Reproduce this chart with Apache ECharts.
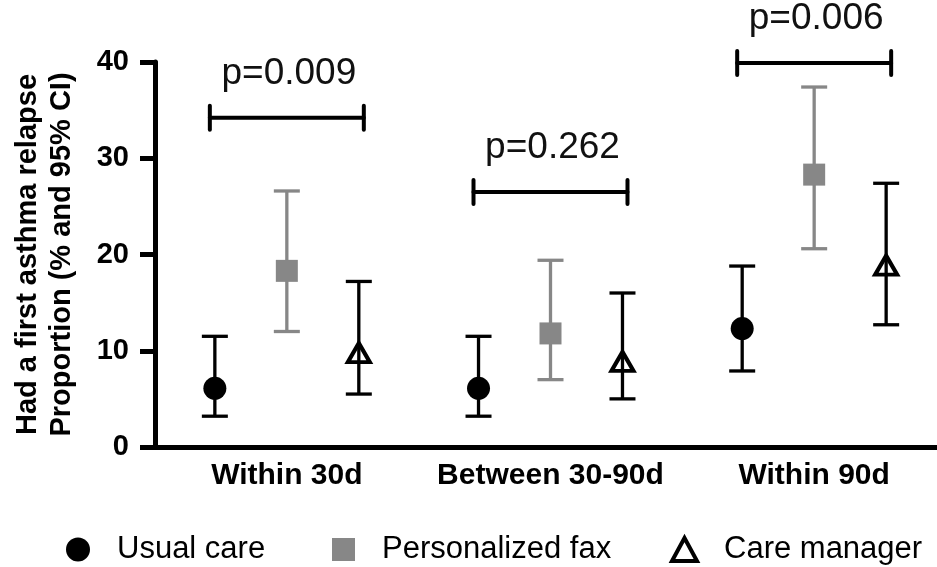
<!DOCTYPE html>
<html>
<head>
<meta charset="utf-8">
<script src="https://cdn.jsdelivr.net/npm/echarts@6/dist/echarts.min.js"></script>
<style>
html, body { margin: 0; padding: 0; background: #fff; }
#chart { width: 937px; height: 567px; }
</style>
</head>
<body>
<div id="chart"></div>
<script>
// categories and tick labels
var categories = ['Within 30d', 'Between 30-90d', 'Within 90d'];
var yTicks = [0, 10, 20, 30, 40];

// proportion (%) with 95% CI, per group
var usualMean = [6.1, 6.1, 12.3];
var usualLow = [3.2, 3.2, 7.9];
var usualHigh = [11.5, 11.5, 18.8];

var faxMean = [18.3, 11.8, 28.3];
var faxLow = [12.0, 7.0, 20.6];
var faxHigh = [26.6, 19.4, 37.4];

var managerMean = [9.8, 8.9, 18.9];
var managerLow = [5.5, 5.0, 12.7];
var managerHigh = [17.2, 16.0, 27.4];

// significance brackets
var pLabels = ['p=0.009', 'p=0.262', 'p=0.006'];
var bracketLevel = [34.2, 26.5, 39.9];

var FONT = '"Liberation Sans", Arial, sans-serif';
var GREY = '#878787';
var groupOffset = 0.273;
var bracketHalf = 0.292;

//把每组数据放到隐藏数值轴上的位置
function build_points(means, shift){
	var out = [];
	for(var i = 0; i < means.length; i++){
		out.push([i + 0.5 + shift, means[i]]);
	}
	return out;
}
function build_bars(lows, highs, shift){
	var out = [];
	for(var i = 0; i < lows.length; i++){
		out.push([i + 0.5 + shift, lows[i], highs[i]]);
	}
	return out;
}

//误差线
function error_bar_renderer(color){
	return function(params, api){
		var x = api.value(0);
		var lo = api.coord([x, api.value(1)]);
		var hi = api.coord([x, api.value(2)]);
		var cap = 13;
		var st = { stroke: color, lineWidth: 3.3 };
		return {
			type: 'group',
			children: [
				{ type: 'line', shape: { x1: lo[0], y1: lo[1], x2: hi[0], y2: hi[1] }, style: st },
				{ type: 'line', shape: { x1: lo[0] - cap, y1: lo[1], x2: lo[0] + cap, y2: lo[1] }, style: st },
				{ type: 'line', shape: { x1: hi[0] - cap, y1: hi[1], x2: hi[0] + cap, y2: hi[1] }, style: st }
			]
		};
	};
}

//p值括线
function bracket_renderer(params, api){
	var c = api.value(0);
	var left = api.coord([c - bracketHalf, api.value(1)]);
	var right = api.coord([c + bracketHalf, api.value(1)]);
	var st = { stroke: '#000', lineWidth: 4, lineCap: 'round' };
	return {
		type: 'group',
		children: [
			{ type: 'line', shape: { x1: left[0], y1: left[1], x2: right[0], y2: right[1] }, style: st },
			{ type: 'line', shape: { x1: left[0], y1: left[1] - 12, x2: left[0], y2: left[1] + 12 }, style: st },
			{ type: 'line', shape: { x1: right[0], y1: right[1] - 12, x2: right[0], y2: right[1] + 12 }, style: st },
			{
				type: 'text',
				style: {
					text: pLabels[params.dataIndex],
					x: (left[0] + right[0]) / 2 + 2,
					y: left[1] - 44,
					align: 'center',
					verticalAlign: 'middle',
					fontSize: 37,
					fontFamily: FONT,
					fill: '#111'
				}
			}
		]
	};
}

var bracketData = [];
for(var k = 0; k < categories.length; k++){
	bracketData.push([k + 0.5, bracketLevel[k]]);
}

var legendText = { fontSize: 31, fontFamily: FONT, color: '#000', padding: [0, 0, 0, 22] };

var chart = echarts.init(document.getElementById('chart'));
var option = {
	backgroundColor: '#fff',
	animation: false,
	grid: { left: 155, right: -9, top: 62, bottom: 120, containLabel: false, outerBoundsMode: 'none' },
	legend: [
		{ left: 61, top: 529, itemWidth: 24, itemHeight: 24, textStyle: legendText,
		  data: [{ name: 'Usual care', icon: 'circle' }] },
		{ left: 327, top: 529, itemWidth: 23, itemHeight: 23, textStyle: legendText,
		  data: [{ name: 'Personalized fax', icon: 'rect' }] },
		{ left: 665, top: 529, itemWidth: 25, itemHeight: 23, textStyle: legendText,
		  data: [{ name: 'Care manager', icon: 'triangle',
		           itemStyle: { color: 'rgba(255,255,255,0)', borderColor: '#000', borderWidth: 4 } }] }
	],
	xAxis: [
		{
			type: 'category',
			data: categories,
			boundaryGap: true,
			axisLine: { lineStyle: { color: '#000', width: 5 } },
			axisTick: { alignWithLabel: true, length: 14, lineStyle: { color: '#000', width: 5 } },
			axisLabel: { interval: 0, color: '#000', fontSize: 30, fontWeight: 'bold', fontFamily: FONT, margin: 14 }
		},
		{ type: 'value', min: 0, max: 3, show: false }
	],
	yAxis: {
		type: 'value',
		min: yTicks[0],
		max: yTicks[yTicks.length - 1],
		interval: 10,
		name: 'Had a first asthma relapse\nProportion (% and 95% CI)',
		nameLocation: 'middle',
		nameGap: 76,
		nameRotate: 90,
		nameTextStyle: { color: '#000', fontSize: 29, fontWeight: 'bold', fontFamily: FONT, lineHeight: 34 },
		splitLine: { show: false },
		axisLine: { show: true, lineStyle: { color: '#000', width: 5 } },
		axisTick: { show: true, length: 15, lineStyle: { color: '#000', width: 5 } },
		axisLabel: { color: '#000', fontSize: 29, fontWeight: 'bold', fontFamily: FONT, margin: 26 }
	},
	series: [
		{
			type: 'custom', name: 'usual_ci', xAxisIndex: 1, z: 2,
			renderItem: error_bar_renderer('#000'),
			encode: { x: 0, y: [1, 2] },
			data: build_bars(usualLow, usualHigh, -groupOffset)
		},
		{
			type: 'custom', name: 'fax_ci', xAxisIndex: 1, z: 2,
			renderItem: error_bar_renderer(GREY),
			encode: { x: 0, y: [1, 2] },
			data: build_bars(faxLow, faxHigh, 0)
		},
		{
			type: 'custom', name: 'manager_ci', xAxisIndex: 1, z: 2,
			renderItem: error_bar_renderer('#000'),
			encode: { x: 0, y: [1, 2] },
			data: build_bars(managerLow, managerHigh, groupOffset)
		},
		{
			type: 'scatter', name: 'Usual care', xAxisIndex: 1, z: 5,
			symbol: 'circle', symbolSize: 23,
			itemStyle: { color: '#000', opacity: 1 },
			data: build_points(usualMean, -groupOffset)
		},
		{
			type: 'scatter', name: 'Personalized fax', xAxisIndex: 1, z: 5,
			symbol: 'rect', symbolSize: 22,
			itemStyle: { color: GREY, opacity: 1 },
			data: build_points(faxMean, 0)
		},
		{
			type: 'scatter', name: 'Care manager', xAxisIndex: 1, z: 5,
			symbol: 'triangle', symbolSize: [22, 19],
			itemStyle: { color: 'rgba(255,255,255,0)', borderColor: '#000', borderWidth: 4, opacity: 1 },
			data: build_points(managerMean, groupOffset)
		},
		{
			type: 'custom', name: 'brackets', xAxisIndex: 1, z: 6,
			renderItem: bracket_renderer,
			encode: { x: 0, y: 1 },
			data: bracketData
		}
	]
};
chart.setOption(option);
</script>
</body>
</html>
